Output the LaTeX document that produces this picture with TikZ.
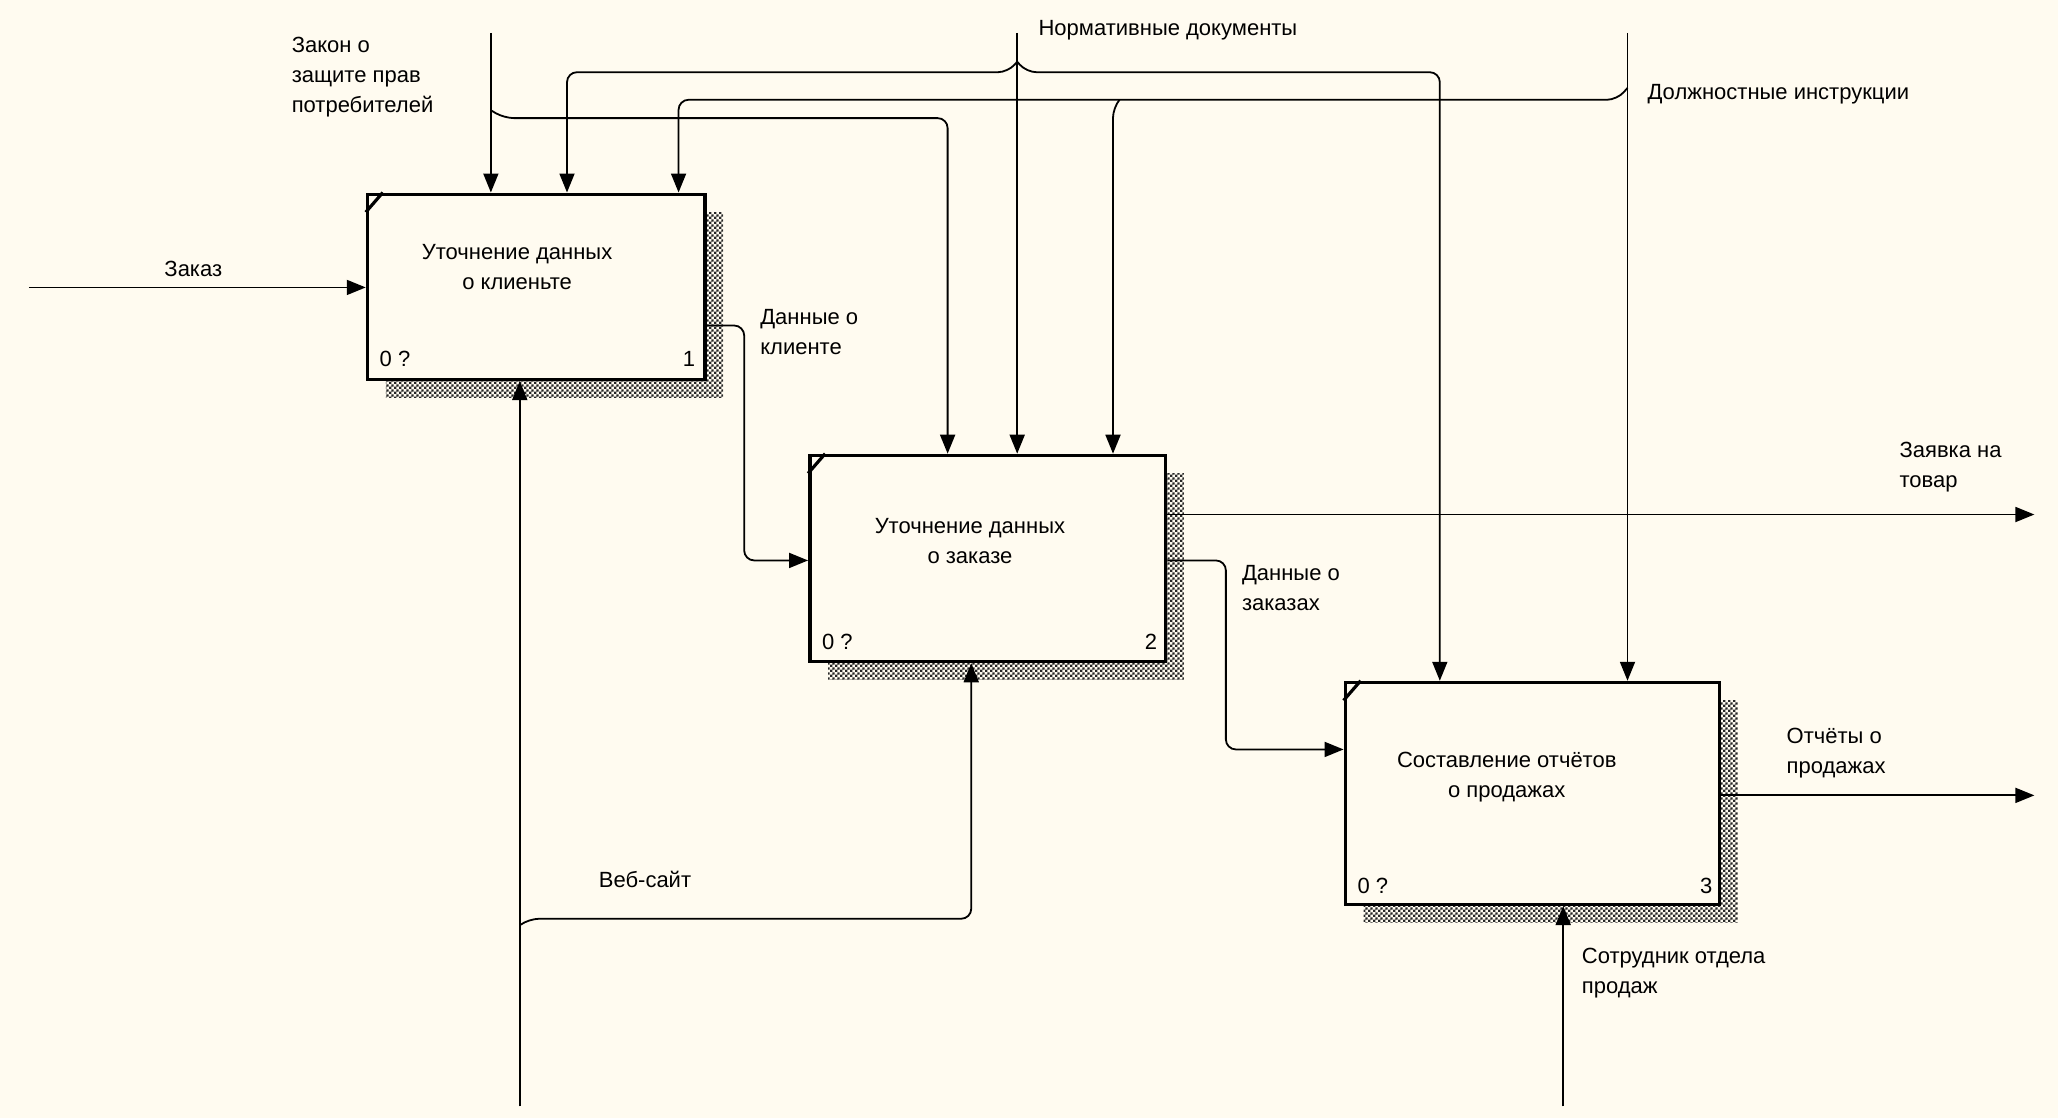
\documentclass[tikz,border=0pt]{standalone}
\usepackage{fontspec}
\setmainfont{Liberation Sans}
\usetikzlibrary{arrows.meta,fit,patterns}

\definecolor{paper}{RGB}{255,251,240}

% checkered shading used for the box shadows
\pgfdeclarepatternformonly{boxshade}{\pgfpointorigin}{\pgfpoint{2.4pt}{2.4pt}}{\pgfpoint{2.4pt}{2.4pt}}{%
  \pgfpathrectangle{\pgfpointorigin}{\pgfpoint{1.2pt}{1.2pt}}%
  \pgfpathrectangle{\pgfpoint{1.2pt}{1.2pt}}{\pgfpoint{1.2pt}{1.2pt}}%
  \pgfusepath{fill}%
}

\begin{document}
\begin{tikzpicture}[x=0.65625pt,y=-0.65625pt,
  txt/.style={font=\fontsize{11}{15}\selectfont, inner sep=0pt, execute at begin node=\strut},
  lbl/.style={txt, align=left, anchor=north west},
  ttl/.style={txt, align=center, anchor=north},
  actbox/.style={draw, line width=1.75pt, fill=paper, inner sep=0pt},
  shadow/.style={pattern=boxshade, pattern color=black!85},
  arr/.style={line width=0.9pt, rounded corners=5pt, -{Triangle[length=9.5pt,width=7.5pt]}},
  notch/.style={line width=1.6pt}]

% page
\fill[paper] (0,0) rectangle (1568,852);
\useasboundingbox (0,0) rectangle (1568,852);

% activity boxes with their shadows
\fill[shadow] (294,162) rectangle (551,303);
\node[actbox, fit={(280,148) (537,289)}] (b1) {};
\fill[shadow] (631,361) rectangle (902,518);
\node[actbox, fit={(617,347) (888,504)}] (b2) {};
\fill[shadow] (1039,534) rectangle (1324,703);
\node[actbox, fit={(1025,520) (1310,689)}] (b3) {};

\foreach \b in {b1,b2,b3}
  \draw[notch] ([shift={(0,15)}]\b.north west) -- ([shift={(13,0)}]\b.north west);

% box titles and corner marks
\node[ttl] (t1) at (394,185.7) {Уточнение данных\\о клиеньте};
\node[ttl] (t2) at (739,394.7) {Уточнение данных\\о заказе};
\node[ttl] (t3) at (1148,572.7) {Составление отчётов\\о продажах};

\node[lbl] (n1) at (289,262.7) {0 ?};
\node[txt, anchor=north east] (k1) at (530,262.7) {1};
\node[lbl] (n2) at (626,478.7) {0 ?};
\node[txt, anchor=north east] (k2) at (882,478.7) {2};
\node[lbl] (n3) at (1034,664.7) {0 ?};
\node[txt, anchor=north east] (k3) at (1305,664.7) {3};

% free ends and fork points
\coordinate (zakonTop) at (374,25);
\coordinate (normTop) at (775,25);
\coordinate (dolzhTop) at (1240,25);
\coordinate (zakazIn) at (22,219);
\coordinate (webBot) at (396,843);
\coordinate (sotrBot) at (1191,843);
\coordinate (zayavkaOut) at (1550,392);
\coordinate (otchOut) at (1550,606);
\coordinate (zakonFork) at (374,84);
\coordinate (normFork) at (775,47);
\coordinate (dolzhFork) at (1240,67);
\coordinate (dolzhSub) at (853,76);
\coordinate (webFork) at (396,705);

% controls
\draw[arr] (zakonTop) -- (zakonTop |- b1.north);
\draw[arr] (normFork) -- (768,55) -- (432,55) -- (432,0 |- b1.north);
\draw[arr] (dolzhFork) -- (1232,76) -- (517,76) -- (517,0 |- b1.north);
\draw[arr] (zakonFork) -- (384,90) -- (722,90) -- (722,0 |- b2.north);
\draw[arr] (normTop) -- (normTop |- b2.north);
\draw[arr] (dolzhSub) -- (848,82) -- (848,0 |- b2.north);
\draw[arr] (normFork) -- (782,55) -- (1097,55) -- (1097,0 |- b3.north);
\draw[arr] (dolzhTop) -- (dolzhTop |- b3.north);

% inputs
\draw[arr] (zakazIn) -- (zakazIn -| b1.west);
\draw[arr] (b1.east |- 0,248) -- (567,248) -- (567,427) -- (b2.west |- 0,427);
\draw[arr] (b2.east |- 0,427) -- (934,427) -- (934,571) -- (b3.west |- 0,571);

% outputs
\draw[arr] (b2.east |- zayavkaOut) -- (zayavkaOut);
\draw[arr] (b3.east |- otchOut) -- (otchOut);

% mechanisms
\draw[arr] (webBot) -- (webBot |- b1.south);
\draw[arr] (webFork) -- (403,700) -- (740,700) -- (740,0 |- b2.south);
\draw[arr] (sotrBot) -- (sotrBot |- b3.south);

% arrow labels
\node[lbl] (lZakon) at (222,27.7) {Закон о\\защите прав\\потребителей};
\node[lbl] (lNorm) at (791,10.7) {Нормативные документы};
\node[lbl] (lDolzh) at (1255,59.7) {Должностные инструкции};
\node[lbl] (lZakaz) at (125,194.7) {Заказ};
\node[lbl] (lDk) at (579,235.7) {Данные о\\клиенте};
\node[lbl] (lZay) at (1447,336.7) {Заявка на\\товар};
\node[lbl] (lDz) at (946,430.7) {Данные о\\заказах};
\node[lbl] (lOtch) at (1361,554.7) {Отчёты о\\продажах};
\node[lbl] (lSotr) at (1205,721.7) {Сотрудник отдела\\продаж};
\node[lbl] (lWeb) at (456,659.7) {Веб-сайт};
\end{tikzpicture}
\end{document}
